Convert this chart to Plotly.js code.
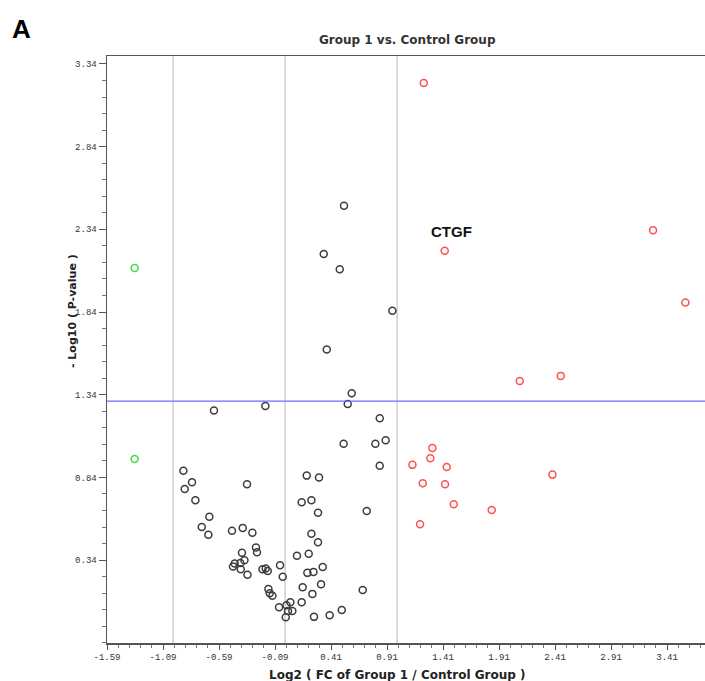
<!DOCTYPE html>
<html>
<head>
<meta charset="utf-8">
<script src="https://cdn.plot.ly/plotly-3.0.1.min.js"></script>
<style>html,body{margin:0;padding:0;background:#fff;}#chart{width:705px;height:681px;}</style>
</head>
<body>
<div id="chart"></div>
<script>
// Data
const greenX = [-1.343, -1.343];
const greenY = [2.107, 0.952];

const redX = [1.238, 1.425, 3.285, 3.574, 2.095, 2.461, 1.315, 1.297, 1.137, 1.443, 2.387, 1.229, 1.428, 1.506, 1.845, 1.205];
const redY = [3.225, 2.211, 2.335, 1.897, 1.423, 1.454, 1.018, 0.956, 0.916, 0.903, 0.857, 0.805, 0.799, 0.678, 0.643, 0.557];

const blackX = [0.526, 0.345, 0.488, 0.958, 0.372, 0.595, 0.559, -0.176,
  -0.635, 0.845, 0.898, 0.806, 0.523, 0.845, -0.908, -0.831, -0.896, -0.34, 0.193, 0.303,
  -0.801, 0.148, 0.235, 0.294, 0.729, -0.676, -0.744, -0.685, -0.474, -0.378, -0.292, 0.235,
  0.294, -0.260, -0.251, -0.385, -0.363, -0.399, -0.45, -0.465, -0.396, -0.336, -0.202, -0.173,
  -0.155, -0.045, -0.021, 0.106, 0.211, 0.336, 0.199, 0.253, 0.321, 0.157, 0.244, -0.149,
  -0.137, -0.113, -0.054, 0.012, 0.047, 0.026, 0.065, 0.006, 0.148, 0.258, 0.398, 0.506, 0.693];
const blackY = [2.483, 2.191, 2.099, 1.848, 1.613, 1.349, 1.284, 1.272,
  1.244, 1.198, 1.065, 1.043, 1.043, 0.910, 0.881, 0.811, 0.770, 0.799, 0.851, 0.839,
  0.702, 0.690, 0.702, 0.627, 0.637, 0.603, 0.541, 0.494, 0.517, 0.535, 0.506, 0.500,
  0.448, 0.416, 0.388, 0.384, 0.339, 0.323, 0.319, 0.301, 0.285, 0.252, 0.285, 0.289,
  0.275, 0.309, 0.240, 0.367, 0.379, 0.299, 0.263, 0.269, 0.194, 0.176, 0.136, 0.166,
  0.140, 0.124, 0.055, 0.067, 0.085, 0.033, 0.033, -0.005, 0.085, -0.003, 0.007, 0.039, 0.160];

const xTickVals = [-1.59, -1.09, -0.59, -0.09, 0.41, 0.91, 1.41, 1.91, 2.41, 2.91, 3.41];
const xTickText = ["-1.59", "-1.09", "-0.59", "-0.09", "0.41", "0.91", "1.41", "1.91", "2.41", "2.91", "3.41"];
const yTickVals = [0.34, 0.84, 1.34, 1.84, 2.34, 2.84, 3.34];
const yTickText = ["0.34", "0.84", "1.34", "1.84", "2.34", "2.84", "3.34"];

const foldLines = [-1, 0, 1];
const pThreshold = 1.301;
const labelGene = "CTGF";
const labelX = 1.425, labelY = 2.211;

function markerTrace(x, y, color) {
  return {
    x: x, y: y, type: 'scatter', mode: 'markers', hoverinfo: 'skip',
    marker: {symbol: 'circle-open', size: 7, color: color, line: {width: 1.5, color: color}}
  };
}

const traces = [
  markerTrace(blackX, blackY, '#3c3c3c'),
  markerTrace(redX, redY, '#ff5050'),
  markerTrace(greenX, greenY, '#44dd44')
];

const shapes = foldLines.map(v => ({
  type: 'line', xref: 'x', yref: 'paper', x0: v, x1: v, y0: 0, y1: 1,
  line: {color: '#d0d0d0', width: 1.5}, layer: 'below'
}));
shapes.push({
  type: 'line', xref: 'paper', yref: 'y', x0: 0, x1: 1, y0: pThreshold, y1: pThreshold,
  line: {color: '#6b6bff', width: 1.2}
});

const tickFont = {family: 'Liberation Mono, monospace', size: 9, color: '#333'};

const layout = {
  width: 705, height: 681,
  margin: {l: 107, r: 0, t: 56, b: 38},
  paper_bgcolor: '#fff', plot_bgcolor: '#fff',
  showlegend: false,
  xaxis: {
    range: [-1.59, 3.749], showgrid: false, zeroline: false,
    showline: true, linecolor: '#555', linewidth: 1.5, mirror: true,
    tickmode: 'array', tickvals: xTickVals, ticktext: xTickText,
    ticks: 'outside', ticklen: 5, tickwidth: 1, tickcolor: '#555',
    tickfont: tickFont,
    minor: {tickmode: 'linear', tick0: -1.59, dtick: 0.1, ticks: 'outside', ticklen: 3, tickcolor: '#777', showgrid: false}
  },
  yaxis: {
    range: [-0.161, 3.388], showgrid: false, zeroline: false,
    showline: true, linecolor: '#555', linewidth: 1.5, mirror: false,
    tickmode: 'array', tickvals: yTickVals, ticktext: yTickText,
    ticks: 'outside', ticklen: 7, tickwidth: 1, tickcolor: '#555',
    tickfont: tickFont,
    minor: {tickmode: 'linear', tick0: 0.34, dtick: 0.1, ticks: 'outside', ticklen: 4, tickcolor: '#777', showgrid: false}
  },
  shapes: shapes,
  annotations: [
    {text: 'A', xref: 'paper', yref: 'paper', x: -0.163, y: 1.075, xanchor: 'left', yanchor: 'top',
     showarrow: false, font: {family: 'Liberation Sans, Arial', size: 26, color: '#000', weight: 'bold'}},
    {text: '<b>Group 1 vs. Control Group</b>', xref: 'paper', yref: 'paper', x: 0.502, y: 1.027,
     xanchor: 'center', yanchor: 'middle', showarrow: false,
     font: {family: 'DejaVu Sans', size: 12, color: '#333'}},
    {text: '<b>Log2 ( FC of Group 1 / Control Group )</b>', xref: 'paper', yref: 'paper', x: 0.485, y: -0.055,
     xanchor: 'center', yanchor: 'middle', showarrow: false,
     font: {family: 'DejaVu Sans', size: 12, color: '#222'}},
    {text: '<b>- Log10 ( P-value )</b>', xref: 'paper', yref: 'paper', x: -0.058, y: 0.566,
     xanchor: 'center', yanchor: 'middle', showarrow: false, textangle: -90,
     font: {family: 'DejaVu Sans', size: 11, color: '#222'}},
    {text: '<b>' + labelGene + '</b>', xref: 'x', yref: 'y', x: labelX, y: labelY,
     xshift: 7, yshift: 19, showarrow: false,
     font: {family: 'Liberation Sans, Arial', size: 15, color: '#111'}}
  ]
};

Plotly.newPlot('chart', traces, layout, {staticPlot: true, displayModeBar: false});
</script>
</body>
</html>
